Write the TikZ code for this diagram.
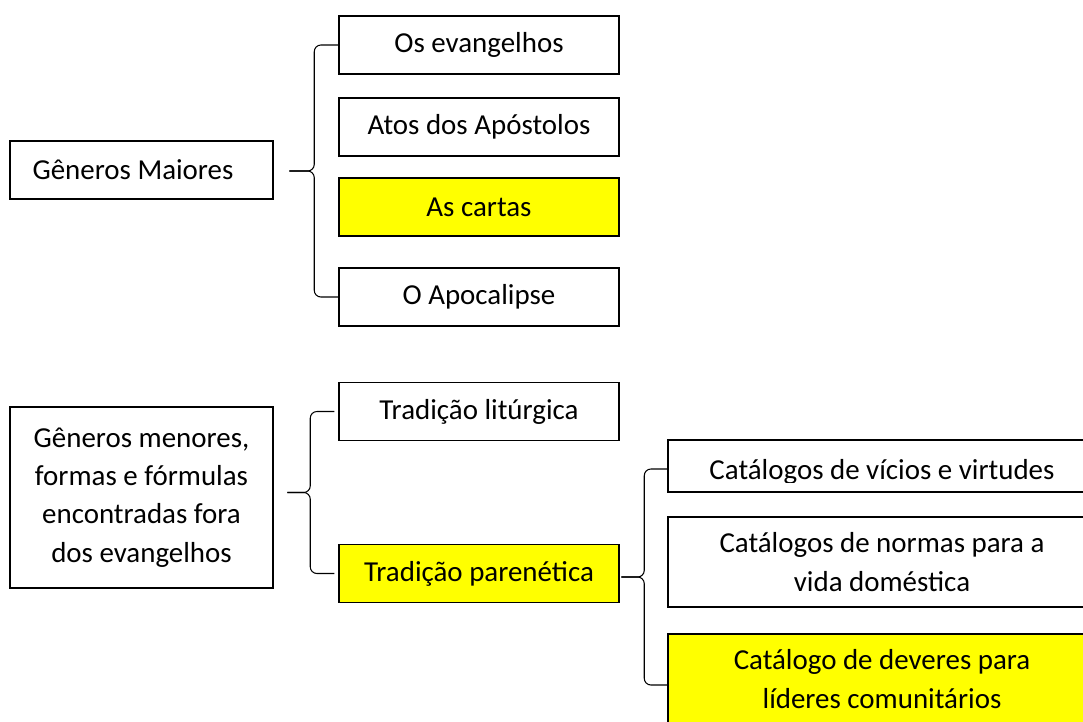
\documentclass[tikz,border=0pt]{standalone}
\usepackage{fontspec}
\setmainfont{Carlito}
\usepackage{tikz}
\usetikzlibrary{positioning, calc}
\definecolor{marca}{RGB}{255,255,0}

\begin{document}
\begin{tikzpicture}[
    x=0.75pt, y=-0.75pt,
    caixa/.style={draw, line width=1.1pt, minimum width=210pt, minimum height=43.5pt, inner sep=0pt, align=center, font=\fontsize{21.7}{28.7}\selectfont},
    esquerda/.style={caixa, minimum width=197pt},
    larga/.style={caixa, minimum width=321pt},
    destaque/.style={fill=marca},
    chave/.style={draw, line width=0.8pt, rounded corners=5pt}
]
    \useasboundingbox (0,0) rectangle (1083,722);
    \clip (0,0) rectangle (1083,722);

    % Generos maiores
    \node[esquerda] (maior) at (141.5,170) {Gêneros Maiores\hspace*{12.75pt}};
    \node[caixa] (evang) at (479,45) {Os evangelhos};
    \node[caixa] (atos) at (479,127) {Atos dos Apóstolos};
    \node[caixa, destaque] (cartas) at (479,207) {As cartas};
    \node[caixa] (apoc) at (479,297) {O Apocalipse};

    % Generos menores
    \node[esquerda, minimum height=135.75pt] (menor) at (141.5,497.5) {Gêneros menores,\\formas e fórmulas\\encontradas fora\\dos evangelhos};
    \node[caixa] (litur) at (479,411.5) {Tradição litúrgica};
    \node[caixa, destaque] (paren) at (479,573.5) {Tradição parenética};

    % Catalogos
    \node[larga, minimum height=39pt, path picture={
        \clip ([yshift=7.5pt]path picture bounding box.south west) rectangle (path picture bounding box.north east);
        \node[anchor=base, font=\fontsize{21.7}{28.7}\selectfont] at ([yshift=-9.75pt]path picture bounding box.center) {Catálogos de vícios e virtudes};
    }] (cat1) at (882,466) {};
    \node[larga, minimum height=67.5pt] (cat2) at (882,562) {Catálogos de normas para a\\vida doméstica};
    \node[larga, destaque, minimum height=67.5pt] (cat3) at (882,679) {Catálogo de deveres para\\líderes comunitários};

    % Chaves
    \coordinate (p1) at ($(evang.west)!0.5!(apoc.west)+(-49,0)$);
    \draw[chave] (evang.west) -- ++(-24,0) |- (p1);
    \draw[chave] (apoc.west) -- ++(-24,0) |- (p1);

    \coordinate (p2) at ($(litur.west)!0.5!(paren.west)+(-51,0)$);
    \draw[chave] ([xshift=-3pt]litur.west) -- ++(-24,0) |- (p2);
    \draw[chave] ([xshift=-3pt]paren.west) -- ++(-24,0) |- (p2);

    \coordinate (a3) at ($(cat1.west)+(0,3)$);
    \coordinate (b3) at ($(cat3.west)+(0,6)$);
    \coordinate (p3) at ($(a3)!0.5!(b3)+(-46,0)$);
    \draw[chave] (a3) -- ++(-23,0) |- (p3);
    \draw[chave] (b3) -- ++(-23,0) |- (p3);
\end{tikzpicture}
\end{document}
